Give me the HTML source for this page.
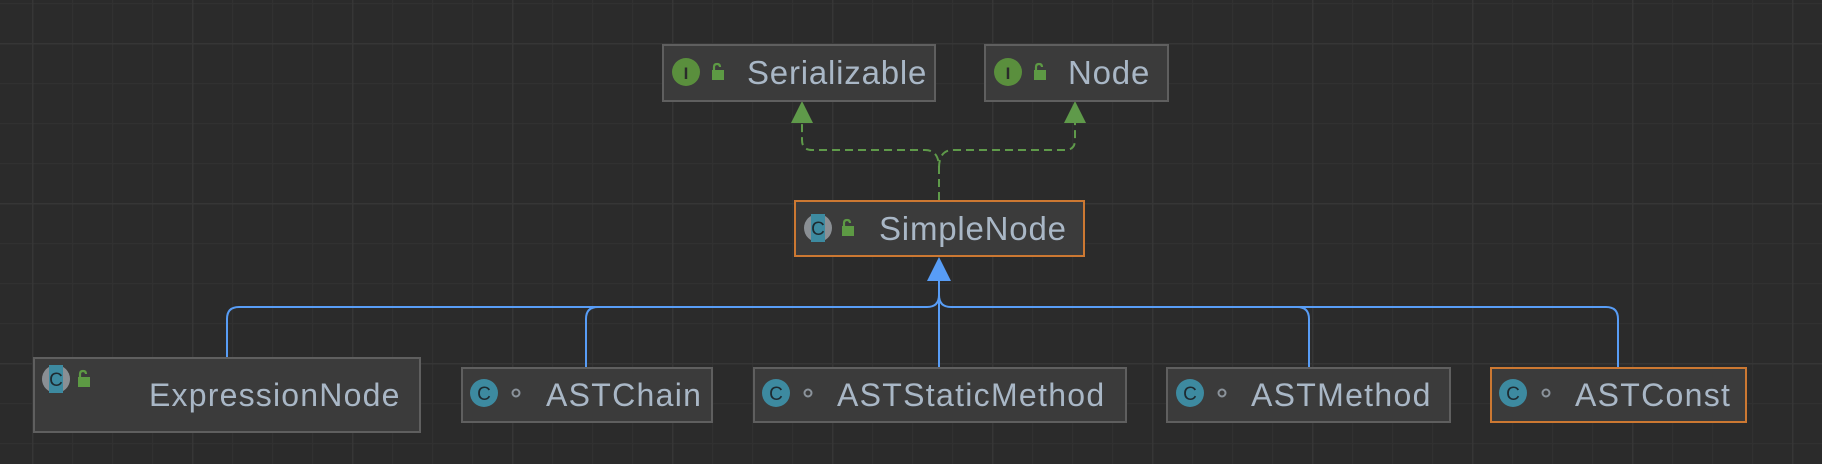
<!DOCTYPE html>
<html><head><meta charset="utf-8"><style>
html,body{margin:0;padding:0;background:#2b2b2b;}
svg{display:block}
text{font-family:"Liberation Sans",sans-serif;}
</style></head><body>
<svg width="1822" height="464" viewBox="0 0 1822 464" xmlns="http://www.w3.org/2000/svg">
<defs>
<pattern id="minor" x="32" y="3" width="40" height="40" patternUnits="userSpaceOnUse">
<path d="M0.5,0 V40 M0,0.5 H40" stroke="#313131" stroke-width="1.5" fill="none"/>
</pattern>
<pattern id="major" x="32" y="43" width="160" height="160" patternUnits="userSpaceOnUse">
<path d="M0,0 V160 M0,0 H160" stroke="#363636" stroke-width="3" fill="none"/>
</pattern>
<g id="lock"><path d="M2,7 V3 Q2,0 5,0 Q8,0 8,3" stroke="#5d9a44" stroke-width="2.2" fill="none"/><rect x="0" y="6" width="12" height="10" fill="#5d9a44"/></g>
</defs>
<rect width="1822" height="464" fill="#2b2b2b"/>
<rect width="1822" height="464" fill="url(#minor)"/>
<rect width="1822" height="464" fill="url(#major)"/>

<g stroke="#5f9a4a" stroke-width="2" fill="none" stroke-dasharray="8,5">
<path d="M939,200 V168 Q939,150 925,150 H812 Q802,150 802,140 V122"/>
<path d="M939,168 Q939,150 953,150 H1065 Q1075,150 1075,140 V122"/>
</g>
<polygon points="802,101 791,123 813,123" fill="#5f9a4a"/>
<polygon points="1075,101 1064,123 1086,123" fill="#5f9a4a"/>

<g stroke="#589df6" stroke-width="2" fill="none">
<path d="M227,357 V319 Q227,307 239,307 H927 Q939,307 939,295"/>
<path d="M586,367 V319 Q586,307 598,307"/>
<path d="M1309,367 V319 Q1309,307 1297,307"/>
<path d="M1618,367 V319 Q1618,307 1606,307 H951 Q939,307 939,295"/>
<path d="M939,367 V278"/>
</g>
<polygon points="939,257 927,281 951,281" fill="#589df6"/>

<rect x="663" y="45" width="272" height="56" fill="#3b3b3b" stroke="#5f5f5f" stroke-width="2"/>
<circle cx="686" cy="72" r="14" fill="#5a8f3d"/><text x="686" y="79" font-size="17" font-weight="bold" fill="#2b2b2b" text-anchor="middle" font-family="Liberation Serif">I</text>
<use href="#lock" x="712" y="64"/>
<text x="747" y="84" font-size="33" fill="#a9b7c6" letter-spacing="0.8">Serializable</text>

<rect x="985" y="45" width="183" height="56" fill="#3b3b3b" stroke="#5f5f5f" stroke-width="2"/>
<circle cx="1008" cy="72" r="14" fill="#5a8f3d"/><text x="1008" y="79" font-size="17" font-weight="bold" fill="#2b2b2b" text-anchor="middle" font-family="Liberation Serif">I</text>
<use href="#lock" x="1034" y="64"/>
<text x="1068" y="84" font-size="33" fill="#a9b7c6" letter-spacing="0.8">Node</text>

<rect x="795" y="201" width="289" height="55" fill="#3b3b3b" stroke="#cc7832" stroke-width="2"/>
<circle cx="818" cy="228" r="14" fill="#8a8f94"/><rect x="811" y="214" width="14" height="28" fill="#3d8aa0"/><text x="818" y="235" font-size="19" fill="#1e2a30" text-anchor="middle">C</text>
<use href="#lock" x="842" y="220"/>
<text x="879" y="240" font-size="33" fill="#a9b7c6" letter-spacing="0.8">SimpleNode</text>

<rect x="34" y="358" width="386" height="74" fill="#3b3b3b" stroke="#5f5f5f" stroke-width="2"/>
<circle cx="56" cy="379" r="14" fill="#8a8f94"/><rect x="49" y="365" width="14" height="28" fill="#3d8aa0"/><text x="56" y="386" font-size="19" fill="#1e2a30" text-anchor="middle">C</text>
<use href="#lock" x="78" y="371"/>
<text x="149" y="406" font-size="32" fill="#a9b7c6" letter-spacing="1.2">ExpressionNode</text>

<g font-size="32" fill="#a9b7c6" letter-spacing="1.3">
<rect x="462" y="368" width="250" height="54" fill="#3b3b3b" stroke="#5f5f5f" stroke-width="2"/>
<circle cx="484" cy="393" r="14" fill="#3d8aa0"/><text x="484" y="400" font-size="19" fill="#1e2a30" text-anchor="middle" letter-spacing="0">C</text>
<circle cx="516" cy="393" r="3.5" fill="none" stroke="#8b939b" stroke-width="2"/>
<text x="546" y="406">ASTChain</text>

<rect x="754" y="368" width="372" height="54" fill="#3b3b3b" stroke="#5f5f5f" stroke-width="2"/>
<circle cx="776" cy="393" r="14" fill="#3d8aa0"/><text x="776" y="400" font-size="19" fill="#1e2a30" text-anchor="middle" letter-spacing="0">C</text>
<circle cx="808" cy="393" r="3.5" fill="none" stroke="#8b939b" stroke-width="2"/>
<text x="837" y="406">ASTStaticMethod</text>

<rect x="1167" y="368" width="283" height="54" fill="#3b3b3b" stroke="#5f5f5f" stroke-width="2"/>
<circle cx="1190" cy="393" r="14" fill="#3d8aa0"/><text x="1190" y="400" font-size="19" fill="#1e2a30" text-anchor="middle" letter-spacing="0">C</text>
<circle cx="1222" cy="393" r="3.5" fill="none" stroke="#8b939b" stroke-width="2"/>
<text x="1251" y="406">ASTMethod</text>

<rect x="1491" y="368" width="255" height="54" fill="#3b3b3b" stroke="#cc7832" stroke-width="2"/>
<circle cx="1513" cy="393" r="14" fill="#3d8aa0"/><text x="1513" y="400" font-size="19" fill="#1e2a30" text-anchor="middle" letter-spacing="0">C</text>
<circle cx="1546" cy="393" r="3.5" fill="none" stroke="#8b939b" stroke-width="2"/>
<text x="1575" y="406">ASTConst</text>
</g>
</svg>
</body></html>
